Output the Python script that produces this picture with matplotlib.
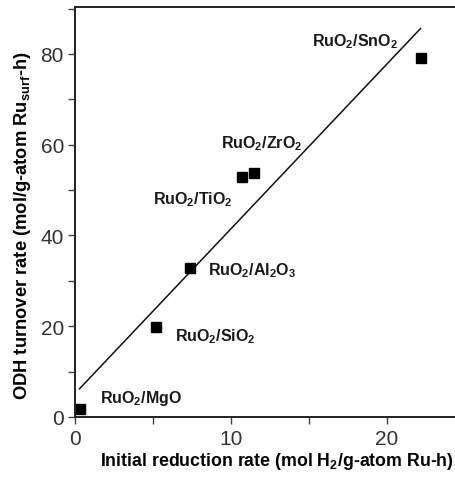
import matplotlib
matplotlib.use("Agg")
import matplotlib.pyplot as plt
from matplotlib.ticker import MultipleLocator

plt.rcParams['font.family'] = ['Liberation Sans', 'DejaVu Sans']
plt.rcParams['mathtext.fontset'] = 'custom'
plt.rcParams['mathtext.rm'] = 'Liberation Sans:bold'
plt.rcParams['mathtext.bf'] = 'Liberation Sans:bold'
plt.rcParams['mathtext.default'] = 'rm'

# data
catalysts = ['MgO', 'SiO2', 'Al2O3', 'TiO2', 'ZrO2', 'SnO2']
labels = [r'RuO$_2$/MgO', r'RuO$_2$/SiO$_2$', r'RuO$_2$/Al$_2$O$_3$',
          r'RuO$_2$/TiO$_2$', r'RuO$_2$/ZrO$_2$', r'RuO$_2$/SnO$_2$']
reduction_rate = [0.3, 5.2, 7.4, 10.7, 11.5, 22.2]
odh_rate = [1.8, 19.8, 32.8, 52.8, 53.7, 79.2]
label_x = [1.6, 6.4, 8.5, 5.0, 9.35, 15.2]
label_y = [4.2, 18.0, 32.4, 48.0, 60.5, 82.9]
fit_x = [0.28, 22.15]
fit_y = [6.2, 85.6]

fig = plt.figure(figsize=(4.55, 4.81), dpi=100)
ax = fig.add_axes([0.165, 0.131, 0.835, 0.852])

ax.plot(fit_x, fit_y, color='#111111', lw=1.1)
ax.plot(reduction_rate, odh_rate, 's', color='black', ms=6.5)
for lx, ly, t in zip(label_x, label_y, labels):
    ax.text(lx, ly, t, fontsize=11.5, fontweight='bold', va='center', ha='left',
            color='#1a1a1a')

ax.set_xlim(0, 24.36)
ax.set_ylim(0, 90.3)
ax.xaxis.set_major_locator(MultipleLocator(10))
ax.xaxis.set_minor_locator(MultipleLocator(5))
ax.yaxis.set_major_locator(MultipleLocator(20))
ax.yaxis.set_minor_locator(MultipleLocator(10))
ax.tick_params(which='both', direction='out', length=5, width=1,
               color='#444444', labelsize=15, labelcolor='#333333')
ax.tick_params(axis='x', pad=4)
ax.tick_params(axis='y', pad=3)
ax.spines['right'].set_visible(False)
for s in ['left', 'bottom', 'top']:
    ax.spines[s].set_linewidth(1.4)
    ax.spines[s].set_color('#222222')

ax.set_xlabel(r'Initial reduction rate (mol H$_2$/g-atom Ru-h)',
              fontsize=12.8, fontweight='bold', labelpad=0)
ax.xaxis.set_label_coords(0.53, -0.081)
ax.set_ylabel(r'ODH turnover rate (mol/g-atom Ru$_{\mathregular{surf}}$-h)',
              fontsize=13.2, fontweight='bold')
ax.yaxis.set_label_coords(-0.112, 0.47)

fig.savefig('out.png', dpi=100)
